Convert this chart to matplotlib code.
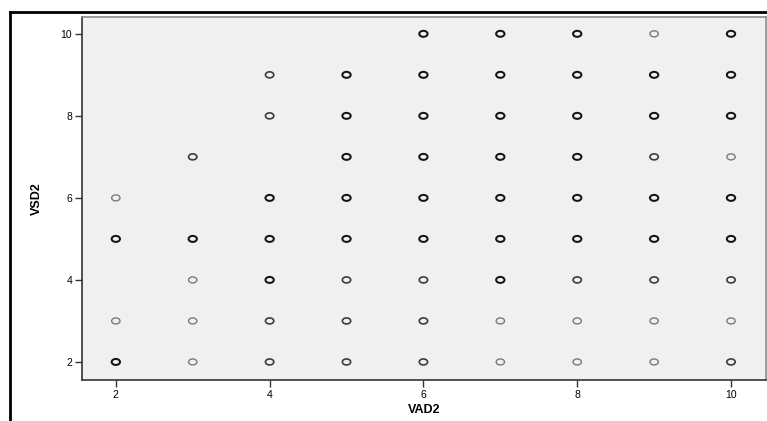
import numpy as np
import matplotlib.pyplot as plt
from matplotlib.path import Path
from matplotlib.lines import Line2D

# VAD2 / VSD2 pairs; n = how many cases overlap there (1 light, 2 medium, 3 dark)
vad2 = [2, 2, 2, 2,
        3, 3, 3, 3, 3,
        4, 4, 4, 4, 4, 4, 4,
        5, 5, 5, 5, 5, 5, 5, 5,
        6, 6, 6, 6, 6, 6, 6, 6, 6,
        7, 7, 7, 7, 7, 7, 7, 7, 7,
        8, 8, 8, 8, 8, 8, 8, 8, 8,
        9, 9, 9, 9, 9, 9, 9, 9, 9,
        10, 10, 10, 10, 10, 10, 10, 10, 10]
vsd2 = [6, 5, 3, 2,
        7, 5, 4, 3, 2,
        9, 8, 6, 5, 4, 3, 2,
        9, 8, 7, 6, 5, 4, 3, 2,
        10, 9, 8, 7, 6, 5, 4, 3, 2,
        10, 9, 8, 7, 6, 5, 4, 3, 2,
        10, 9, 8, 7, 6, 5, 4, 3, 2,
        10, 9, 8, 7, 6, 5, 4, 3, 2,
        10, 9, 8, 7, 6, 5, 4, 3, 2]
n = [1, 3, 1, 3,
     2, 3, 1, 1, 1,
     2, 2, 3, 3, 3, 2, 2,
     3, 3, 3, 3, 3, 2, 2, 2,
     3, 3, 3, 3, 3, 3, 2, 2, 2,
     3, 3, 3, 3, 3, 3, 3, 1, 1,
     3, 3, 3, 3, 3, 3, 2, 1, 1,
     1, 3, 3, 2, 3, 3, 2, 1, 1,
     3, 3, 3, 1, 3, 3, 2, 1, 2]

ticks = [2, 4, 6, 8, 10]

colors = {1: '#7a7a7a', 2: '#3c3c3c', 3: '#141414'}
widths = {1: 1.0, 2: 1.2, 3: 1.45}

# the SPSS circles come out slightly flattened
circ = Path.unit_circle()
oval = Path(circ.vertices * np.array([1.0, 0.72]), circ.codes)

plt.rcParams['font.family'] = ['Liberation Sans', 'DejaVu Sans']

fig = plt.figure(figsize=(7.67, 4.21), dpi=100)
ax = fig.add_axes([0.1069, 0.0974, 0.8918, 0.8622])
ax.set_facecolor('#f0f0f0')

x = np.array(vad2)
y = np.array(vsd2)
k = np.array(n)
for lvl in (1, 2, 3):
    m = k == lvl
    ax.scatter(x[m], y[m], s=36, marker=oval, facecolors='none',
               edgecolors=colors[lvl], linewidths=widths[lvl], zorder=3)

ax.set_xlim(1.56, 10.455)
ax.set_ylim(1.56, 10.41)
ax.set_xticks(ticks)
ax.set_yticks(ticks)
ax.tick_params(direction='out', length=5, width=1, color='#333333',
               labelsize=7.5, pad=2)
ax.set_xlabel('VAD2', fontsize=9, fontweight='bold', labelpad=3)
ax.set_ylabel('VSD2', fontsize=9, fontweight='bold', labelpad=13)

ax.spines['left'].set_color('#333333')
ax.spines['bottom'].set_color('#333333')
ax.spines['top'].set_color('#8c8c8c')
ax.spines['right'].set_color('#8c8c8c')
for s in ax.spines.values():
    s.set_linewidth(1.2)

# outer frame of the pasted picture
fig.add_artist(Line2D([10 / 767, 10 / 767], [0, 1 - 12 / 421], color='black', lw=2))
fig.add_artist(Line2D([10 / 767, 1], [1 - 12 / 421, 1 - 12 / 421], color='black', lw=2))

fig.savefig('out.png', dpi=100)
